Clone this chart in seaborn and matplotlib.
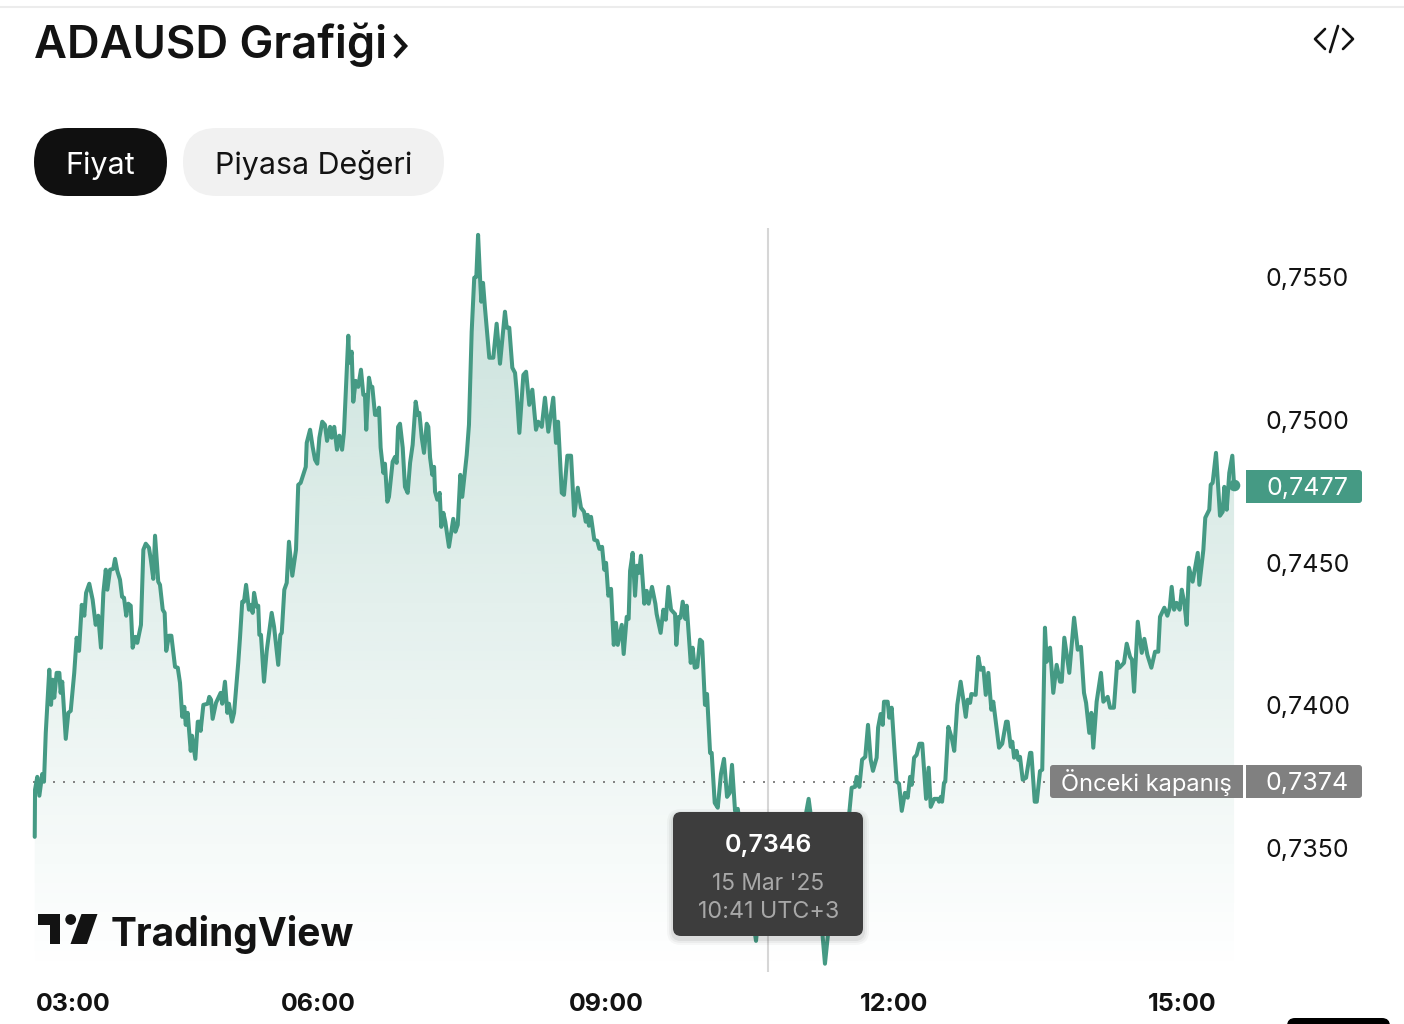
#ADAUSD fiyat grafigi
import numpy as np
import seaborn as sns
import matplotlib
matplotlib.use("Agg")
import matplotlib.pyplot as plt
from matplotlib.colors import to_rgb
from matplotlib.patches import FancyBboxPatch, Polygon, Circle, Rectangle
from matplotlib.transforms import ScaledTranslation

# minutes after 03:00
minutes = [
    2.7, 2.9, 4.3, 5.6, 7.4, 8.5, 9.6, 11.8, 12.9, 13.9, 14.9, 16.4, 18.1, 18.9, 19.9, 22.1, 23.7, 25.2, 27.4, 28.9,
    30.4, 32.1, 33.7, 34.8, 36.8, 38.9, 40.8, 42.4, 44.1, 45.6, 47.1, 48.1, 49.8, 51.8, 52.9, 54.3, 56.0, 57.3, 58.5, 59.9,
    61.2, 62.7, 63.9, 65.6, 66.8, 69.1, 70.6, 72.1, 74.1, 75.2, 76.8, 77.9, 79.9, 81.0, 82.7, 83.9, 84.9, 86.6, 88.1, 90.4,
    92.1, 93.5, 94.9, 96.2, 97.1, 98.3, 100.2, 101.0, 103.1, 104.6, 105.6, 106.4, 108.1, 110.8, 111.8, 112.9, 113.9, 116.0, 118.9, 119.9,
    121.6, 123.1, 124.1, 126.0, 127.3, 129.9, 131.0, 132.4, 133.5, 134.8, 136.6, 137.9, 138.9, 139.8, 141.4, 142.4, 143.1, 144.1, 146.0, 147.7,
    150.8, 152.3, 154.9, 156.2, 157.1, 158.7, 160.2, 161.6, 163.7, 166.0, 167.4, 168.9, 172.1, 172.7, 174.8, 176.4, 177.9, 179.3, 180.6, 182.4,
    184.1, 185.4, 187.3, 188.3, 189.9, 191.6, 193.1, 194.8, 196.0, 198.7, 199.3, 200.8, 201.8, 203.3, 204.9, 206.6, 208.1, 209.1, 209.9, 211.6,
    212.7, 213.7, 215.4, 216.8, 217.9, 218.9, 220.6, 221.6, 223.1, 224.1, 226.4, 227.9, 228.9, 229.8, 231.0, 232.7, 234.1, 235.8, 237.3, 238.9,
    240.8, 242.1, 243.1, 244.6, 246.0, 247.7, 248.7, 249.8, 251.2, 252.3, 252.9, 254.3, 255.8, 256.8, 258.1, 259.3, 261.6, 264.3, 265.6, 267.1,
    268.7, 269.9, 272.7, 274.1, 275.8, 277.4, 278.7, 279.8, 281.0, 281.8, 282.9, 284.1, 286.8, 289.3, 291.4, 293.5, 296.6, 297.7, 299.3, 301.2,
    302.9, 303.9, 305.6, 308.1, 309.8, 311.8, 313.7, 316.0, 317.4, 319.6, 321.6, 323.7, 326.8, 328.5, 329.8, 332.1, 333.5, 335.6, 337.9, 339.9,
    342.1, 344.1, 346.0, 347.1, 348.3, 349.1, 350.4, 352.4, 354.3, 355.6, 357.3, 358.7, 359.8, 361.2, 362.9, 364.6, 366.0, 367.1, 369.6, 370.8,
    372.7, 373.9, 374.8, 376.4, 377.9, 379.1, 380.4, 381.6, 383.7, 385.2, 386.4, 388.5, 390.6, 391.4, 393.9, 395.6, 397.1, 398.7, 400.4, 402.9,
    403.7, 405.2, 406.4, 407.7, 409.3, 410.2, 412.7, 413.9, 415.2, 416.8, 418.5, 419.8, 421.6, 422.9, 424.8, 425.8, 427.7, 429.6, 431.6, 433.5,
    435.4, 437.1, 438.5, 440.4, 442.1, 443.5, 446.6, 449.8, 453.5, 456.0, 461.0, 465.4, 471.6, 477.9, 482.9, 486.4, 488.5, 492.3, 494.8, 496.6,
    499.1, 502.9, 507.3, 511.8, 513.3, 515.4, 516.4, 518.1, 519.8, 521.8, 523.5, 525.2, 526.6, 528.9, 529.8, 531.4, 532.7, 533.5, 535.8, 536.8,
    538.3, 539.9, 541.4, 542.9, 544.6, 546.6, 548.3, 549.8, 550.8, 552.3, 553.9, 555.6, 557.4, 559.8, 561.4, 562.7, 564.9, 567.1, 567.9, 569.0,
    569.8, 571.0, 571.8, 573.7, 575.8, 577.4, 579.3, 581.4, 583.1, 584.6, 585.8, 587.3, 588.1, 590.8, 592.4, 593.9, 595.6, 597.1, 598.7, 599.9,
    600.6, 601.8, 605.4, 607.4, 609.8, 610.8, 612.7, 613.7, 614.8, 616.4, 617.4, 618.5, 620.2, 622.3, 624.8, 625.6, 627.7, 629.0, 631.0, 632.4,
    634.1, 635.2, 636.2, 637.3, 639.3, 641.4, 643.5, 644.6, 646.2, 649.3, 652.3, 654.6, 656.6, 658.5, 659.8, 661.8, 663.1, 664.3, 666.4, 669.1,
    670.6, 673.3, 674.8, 677.2, 679.3, 680.6, 683.5, 685.2, 687.3, 688.5, 689.8, 692.1, 694.6, 696.2, 698.1, 700.6, 702.9, 704.9, 706.0, 708.7,
    710.6, 712.1, 713.3, 714.8, 716.4, 718.3, 719.6, 721.2, 722.7, 724.1, 726.4, 729.6, 730.6, 733.1, 734.3, 736.8, 737.7, 738.9, 741.0, 743.5,
    745.2, 746.2, 747.7, 749.3, 751.2, 752.3,
]
prices = [
    .73540, .73705, .73750, .73684, .73760, .73733, .73904, .74125, .74002, .74090, .74027, .74114, .74114, .74044, .74083, .73883, .73974, .73981, .74114, .74237,
    .74191, .74352, .74314, .74394, .74426, .74370, .74282, .74314, .74202, .74394, .74475, .74405, .74475, .74478, .74513, .74471, .74440, .74380, .74377, .74314,
    .74356, .74349, .74202, .74240, .74219, .74282, .74545, .74566, .74552, .74513, .74443, .74594, .74433, .74422, .74335, .74324, .74191, .74244, .74244, .74135,
    .74132, .74079, .73960, .73995, .73932, .73974, .73841, .73894, .73813, .73943, .73943, .73911, .74002, .74006, .74030, .74020, .73953, .74009, .74044, .74006,
    .74083, .73974, .74006, .73943, .73974, .74149, .74237, .74363, .74363, .74422, .74335, .74352, .74324, .74394, .74345, .74349, .74247, .74247, .74083, .74191,
    .74324, .74275, .74142, .74247, .74254, .74405, .74429, .74573, .74454, .74545, .74772, .74779, .74835, .74919, .74965, .74905, .74860, .74846, .74937, .74993,
    .74982, .74926, .74975, .74937, .74975, .74895, .74944, .74895, .74958, .75294, .75199, .75238, .75063, .75136, .75115, .75175, .75087, .75087, .74965, .75147,
    .75115, .75115, .75017, .75017, .75042, .74902, .74814, .74846, .74713, .74730, .74853, .74870, .74849, .74975, .74986, .74902, .74765, .74744, .74849, .74912,
    .75063, .75017, .75024, .74937, .74884, .74986, .74975, .74867, .74807, .74835, .74748, .74720, .74744, .74625, .74674, .74643, .74555, .74653, .74608, .74632,
    .74807, .74730, .74877, .74982, .75308, .75497, .75500, .75647, .75500, .75413, .75479, .75392, .75217, .75217, .75336, .75196, .75378, .75322, .75322, .75182,
    .75164, .75101, .74954, .75157, .75168, .75052, .75105, .74965, .74993, .74975, .75077, .74958, .75077, .74919, .74993, .74744, .74737, .74874, .74874, .74664,
    .74762, .74692, .74678, .74643, .74667, .74629, .74660, .74580, .74576, .74548, .74555, .74475, .74499, .74384, .74408, .74212, .74289, .74212, .74282, .74180,
    .74310, .74303, .74471, .74534, .74384, .74489, .74464, .74524, .74356, .74401, .74356, .74415, .74356, .74320, .74254, .74335, .74300, .74415, .74335, .74320,
    .74212, .74310, .74307, .74363, .74303, .74349, .74149, .74202, .74132, .74135, .74230, .74223, .74002, .74040, .73834, .73834, .73659, .73642, .73760, .73813,
    .73680, .73694, .73792, .73631, .73638, .73582, .73460, .73320, .73176, .73320, .73460, .73390, .73425, .73495, .73565, .73673, .73582, .73320, .73215, .73096,
    .73232, .73390, .73495, .73624, .73712, .73715, .73750, .73715, .73810, .73820, .73932, .73810, .73771, .73817, .73922, .73970, .73932, .74013, .74013, .73957,
    .73992, .73855, .73733, .73726, .73631, .73694, .73677, .73750, .73722, .73817, .73827, .73866, .73866, .73673, .73782, .73645, .73673, .73673, .73663, .73680,
    .73663, .73729, .73733, .73925, .73887, .73841, .74002, .74083, .74020, .73960, .74020, .74009, .74040, .74037, .74170, .74125, .74132, .74037, .74114, .74030,
    .73985, .74013, .73852, .73866, .73943, .73943, .73855, .73873, .73817, .73841, .73810, .73820, .73740, .73747, .73834, .73834, .73663, .73663, .73770, .73775,
    .74272, .74153, .74195, .74202, .74044, .74142, .74083, .74083, .74237, .74114, .74307, .74195, .74205, .74044, .74009, .73904, .73974, .73852, .74013, .74114,
    .74013, .74030, .73992, .73992, .74153, .74132, .74149, .74216, .74170, .74160, .74048, .74293, .74184, .74233, .74177, .74132, .74188, .74188, .74310, .74342,
    .74314, .74342, .74415, .74335, .74359, .74335, .74405, .74359, .74282, .74482, .74433, .74534, .74422, .74545, .74657, .74685, .74772, .74779, .74884, .74664,
    .74678, .74765, .74685, .74814, .74874, .74770,
]

y_ticks = [0.7350, 0.7400, 0.7450, 0.7500, 0.7550]
y_tick_labels = ["0,7350", "0,7400", "0,7450", "0,7500", "0,7550"]
x_ticks = [0, 180, 360, 540, 720]
x_tick_labels = ["03:00", "06:00", "09:00", "12:00", "15:00"]
prev_close = 0.73733
hover_minute = 461

LINE = "#459A84"
INK = "#131313"
W, H = 1404, 1024

sns.set_theme(style="white")
plt.rcParams["font.family"] = ["Inter", "DejaVu Sans"]

fig = plt.figure(figsize=(W / 100, H / 100), dpi=100, facecolor="white")
ax = fig.add_axes([30.4 / W, 1 - 972 / H, (1240 - 30.4) / W, (972 - 228) / H])
ax.patch.set_alpha(0)

x_min, x_max = 0, (1240 - 30.4) / 1.6
y_min, y_max = 0.73067, 0.75671

# gradient under the line
poly = ax.fill_between(minutes, prices, y_min, color="none", linewidth=0)
ramp = np.zeros((256, 1, 4))
ramp[..., :3] = to_rgb(LINE)
ramp[:, 0, 3] = np.linspace(0.30, 0.0, 256)
im = ax.imshow(ramp, extent=[x_min, x_max, y_min, y_max], aspect="auto", origin="upper", zorder=1)
im.set_clip_path(poly.get_paths()[0], transform=ax.transData)

ax.axhline(prev_close, xmin=3 / 1209.6, color="#6E6E6E", linewidth=1.2, linestyle=(0, (1.2, 4.8)), zorder=2)
ax.axvline(hover_minute, color="#D6D6D6", linewidth=1.5, zorder=2)
sns.lineplot(x=minutes, y=prices, ax=ax, color=LINE, linewidth=2.9, estimator=None, sort=False, zorder=3)
sns.scatterplot(x=minutes[-1:], y=prices[-1:], ax=ax, color=LINE, s=70, linewidth=0, zorder=4)

ax.set_xlim(x_min, x_max)
ax.set_ylim(y_min, y_max)
sns.despine(ax=ax, left=True, bottom=True)
ax.yaxis.tick_right()
ax.set_yticks(y_ticks, y_tick_labels)
ax.set_xticks(x_ticks, x_tick_labels)
ax.tick_params(axis="y", length=0, pad=18.6, labelsize=18, labelcolor=INK)
ax.tick_params(axis="x", length=0, pad=15, labelsize=18, labelcolor=INK)
for lab in ax.get_xticklabels():
    lab.set_fontweight("bold")
first = ax.get_xticklabels()[0]
first.set_ha("left")
first.set_transform(first.get_transform() + ScaledTranslation(5.0 / 100, 0, fig.dpi_scale_trans))

# page furniture in pixel coordinates
ui = fig.add_axes([0, 0, 1, 1], zorder=5)
ui.set_xlim(0, W)
ui.set_ylim(H, 0)
ui.axis("off")


def box(x0, y0, x1, y1, color, r=4, **kw):
    p = FancyBboxPatch((x0 + r, y0 + r), x1 - x0 - 2 * r, y1 - y0 - 2 * r,
                       boxstyle=f"round,pad={r},rounding_size={r}",
                       facecolor=color, edgecolor="none", linewidth=0, **kw)
    ui.add_patch(p)
    return p


def flat(x0, y0, x1, y1, color):
    ui.add_patch(Rectangle((x0, y0), x1 - x0, y1 - y0, facecolor=color, edgecolor="none", linewidth=0))


ui.plot([0, W], [7, 7], color="#ECECEC", linewidth=1.5, solid_capstyle="butt")
ui.text(34, 40, "ADAUSD Grafiği", fontsize=32.6, fontweight="semibold", color=INK, va="center_baseline", ha="left")
ui.plot([395, 405, 395], [35, 46, 57], color=INK, linewidth=3.2, solid_capstyle="butt", solid_joinstyle="miter")

# embed icon
ui.plot([1325, 1315, 1325], [29, 39, 49], color=INK, linewidth=1.9)
ui.plot([1343, 1353, 1343], [29, 39, 49], color=INK, linewidth=1.9)
ui.plot([1330, 1338], [52, 26], color=INK, linewidth=1.9)

# tabs
box(34, 128, 167, 196, "#101010", r=34)
ui.text(100.5, 162.5, "Fiyat", fontsize=22, color="white", ha="center", va="center_baseline")
box(183, 128, 444, 196, "#F1F1F1", r=34)
ui.text(314, 162, "Piyasa Değeri", fontsize=21.9, color=INK, ha="center", va="center_baseline")

# price tags
box(1246, 470, 1362, 503, LINE, r=3)
flat(1246, 470, 1252, 503, LINE)
ui.text(1307.5, 486, "0,7477", fontsize=18, color="white", ha="center", va="center_baseline")
box(1050, 765, 1243, 798, "#808080", r=3)
flat(1236, 765, 1243, 798, "#808080")
ui.text(1146, 780, "Önceki kapanış", fontsize=17, color="white", ha="center", va="center_baseline")
box(1246, 765, 1362, 798, "#808080", r=3)
flat(1246, 765, 1252, 798, "#808080")
ui.text(1307.5, 781, "0,7374", fontsize=18, color="white", ha="center", va="center_baseline")

# tooltip
for grow, alpha in [(6, 0.03), (4, 0.04), (2, 0.06)]:
    box(673 - grow, 812 - grow + 3, 863 + grow, 936 + grow + 3, "black", r=8 + grow, alpha=alpha)
box(673, 812, 863, 936, "#3D3D3D", r=8)
ui.text(768.5, 843, "0,7346", fontsize=18, fontweight="semibold", color="white", ha="center", va="center_baseline")
ui.text(768.5, 882, "15 Mar '25", fontsize=16.4, color="#A8A8A8", ha="center", va="center_baseline")
ui.text(768.5, 910, "10:41 UTC+3", fontsize=16.8, color="#A8A8A8", ha="center", va="center_baseline")

# TradingView logo
ui.add_patch(Polygon([(38, 914), (60, 914), (60, 944), (50, 944), (50, 925), (38, 925)], facecolor=INK, edgecolor="none"))
ui.add_patch(Circle((70.7, 919.5), 5.4, facecolor=INK, edgecolor="none"))
ui.add_patch(Polygon([(81.5, 914), (97.5, 914), (87, 944), (70.5, 944)], facecolor=INK, edgecolor="none"))
ui.text(111, 930, "TradingView", fontsize=28, fontweight="bold", color=INK, ha="left", va="center_baseline")

# corner widget at the bottom right
for grow in range(4, 84, 4):
    box(1287 - grow, 1018 - grow, 1390 + grow, 1100, "black", r=grow, alpha=0.0012)
box(1287, 1018, 1390, 1060, "black", r=8)

fig.savefig("out.png", dpi=100)
